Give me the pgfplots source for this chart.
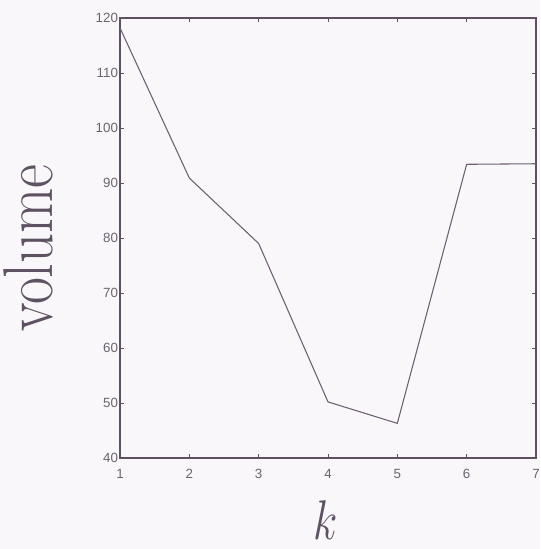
\RequirePackage{fix-cm}
\documentclass[border=0pt]{standalone}
\usepackage{fontspec}
\usepackage{pgfplots}
\pgfplotsset{compat=1.18}
\newfontfamily\helv{Liberation Sans}
\definecolor{bg}{HTML}{F9F7F9}
\definecolor{ln}{HTML}{6E5F72}
\definecolor{ax}{HTML}{5E5262}
\definecolor{tk}{HTML}{6A6470}
\begin{document}
\begin{tikzpicture}
\path[use as bounding box, fill=bg] (-90pt,-68.25pt) rectangle (315pt,343.5pt);
\begin{axis}[
  at={(0,0)}, anchor=south west,
  scale only axis,
  width=312pt, height=330pt,
  xmin=1, xmax=7, ymin=40, ymax=120,
  xtick={1,...,7}, ytick={40,50,...,120},
  tick align=inside,
  major tick length=3pt,
  axis line style={color=ax, line width=0.8pt},
  every tick/.style={color=ax, line width=0.6pt},
  /pgf/number format/assume math mode=true,
  tick label style={font=\helv\fontsize{10}{12}\selectfont, color=tk},
  xticklabel style={yshift=-5pt},
  yticklabel style={xshift=2pt},
  xlabel={$k$},
  ylabel={volume},
  xlabel style={at={(axis description cs:0.495,-0.14)}, anchor=center, font=\fontsize{42}{46}\selectfont, color=ax, transform shape, xscale=0.8},
  ylabel style={at={(axis description cs:-0.22,0.477)}, anchor=center, font=\fontsize{44}{48}\selectfont, color=ax, transform shape, yscale=1.2},
]
\addplot[color=ln, line width=0.8pt] coordinates {
  (1,118.2) (2,90.9) (3,79) (4,50.2) (5,46.3) (6,93.4) (7,93.5)
};
\end{axis}
\end{tikzpicture}
\end{document}
